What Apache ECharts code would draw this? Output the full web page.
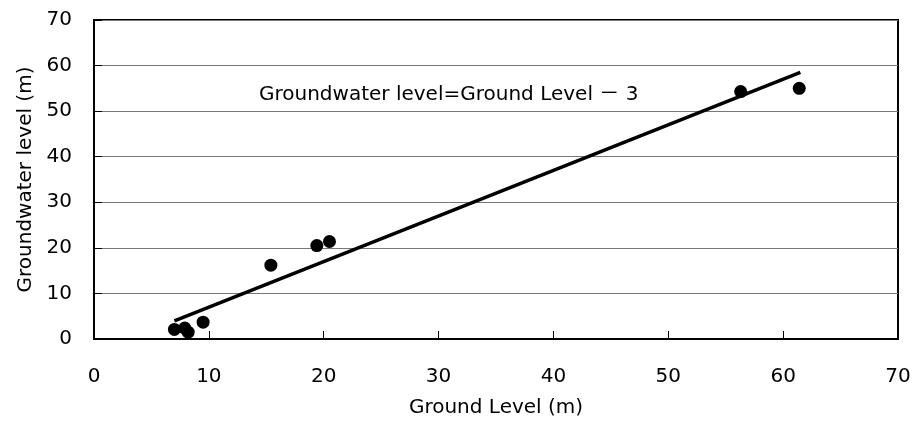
<!DOCTYPE html>
<html>
<head>
<meta charset="utf-8">
<script src="https://cdn.jsdelivr.net/npm/echarts@6/dist/echarts.min.js"></script>
<style>
  html, body { margin: 0; padding: 0; background: #fff; }
  #chart { width: 915px; height: 423px; }
</style>
</head>
<body>
<div id="chart"></div>
<script>
// Ground level (x) vs groundwater level (y)
const groundLevel = [7.0, 7.9, 8.2, 9.5, 15.4, 19.4, 20.5, 56.3, 61.4];
const waterLevel = [2.1, 2.4, 1.5, 3.7, 16.2, 20.5, 21.4, 54.3, 55.0];
// fitted line endpoints: Groundwater level = Ground Level - 3
const fitX = [7.0, 61.5];
const fitY = [4.0, 58.5];
const axisTicks = [0, 10, 20, 30, 40, 50, 60, 70];

const font = '"DejaVu Sans", "Noto Sans CJK JP", sans-serif';
const chart = echarts.init(document.getElementById("chart"));

const axisBase = {
  type: "value",
  min: axisTicks[0],
  max: axisTicks[axisTicks.length - 1],
  interval: 10,
  nameLocation: "middle",
  nameTextStyle: { color: "#000", fontSize: 20, fontFamily: font },
  axisLine: { show: true, onZero: false, lineStyle: { color: "#000", width: 2 } },
  axisTick: { show: true, inside: true, length: 8, lineStyle: { color: "#000", width: 1 } },
  axisLabel: { color: "#000", fontSize: 20, fontFamily: font }
};

chart.setOption({
  animation: false,
  grid: {
    left: 94, right: 17, top: 20, bottom: 82,
    show: true, borderColor: "#000", borderWidth: 2, backgroundColor: "#fff"
  },
  title: {
    text: "Groundwater level=Ground Level － 3",
    left: 254, top: 80,
    textStyle: { color: "#000", fontSize: 20, fontWeight: "normal", fontFamily: font }
  },
  xAxis: Object.assign({}, axisBase, {
    name: "Ground Level (m)",
    nameGap: 59,
    splitLine: { show: false },
    axisLabel: Object.assign({}, axisBase.axisLabel, { margin: 28 })
  }),
  yAxis: Object.assign({}, axisBase, {
    name: "Groundwater level (m)",
    nameGap: 58,
    splitLine: { show: true, lineStyle: { color: "#777", width: 1 } },
    axisLabel: Object.assign({}, axisBase.axisLabel, { margin: 22 })
  }),
  series: [
    {
      type: "line",
      data: fitX.map((x, i) => [x, fitY[i]]),
      symbol: "none",
      lineStyle: { color: "#000", width: 3.5 },
      z: 3
    },
    {
      type: "scatter",
      data: groundLevel.map((x, i) => [x, waterLevel[i]]),
      symbol: "circle",
      symbolSize: 13,
      itemStyle: { color: "#000", opacity: 1 },
      z: 4
    }
  ]
});

window.addEventListener("resize", () => chart.resize());
</script>
</body>
</html>
